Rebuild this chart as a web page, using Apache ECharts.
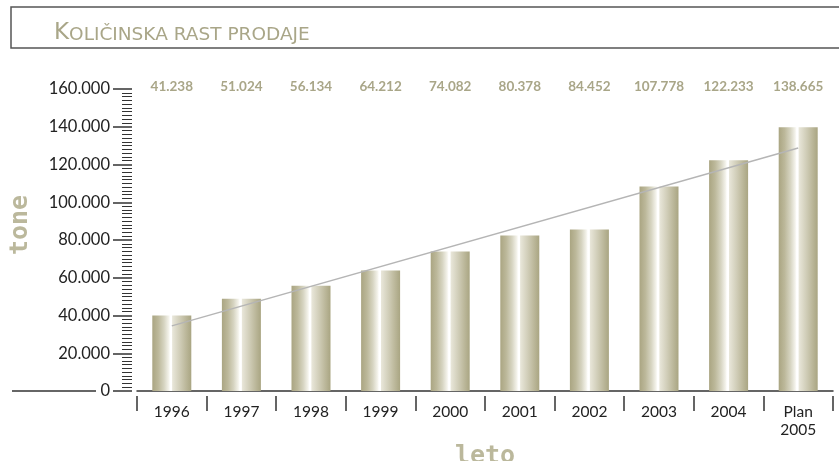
<!DOCTYPE html>
<html>
    <head>
        <meta charset="utf-8">
        <title>Količinska rast prodaje</title>
        <script src="https://cdn.jsdelivr.net/npm/echarts@6/dist/echarts.min.js"></script>
        <style>
            body { margin: 0; background: #fff; }
            #chart { width: 839px; height: 461px; }
        </style>
    </head>
    <body>
        <div id="chart"></div>
        <script>
            // podatki
            var years = ['1996', '1997', '1998', '1999', '2000', '2001', '2002', '2003', '2004', 'Plan\n2005'];
            var topLabels = ['41.238', '51.024', '56.134', '64.212', '74.082', '80.378', '84.452', '107.778', '122.233', '138.665'];
            var barValues = [40000, 48900, 55800, 63800, 73900, 82400, 85600, 108400, 122300, 139800];
            var trendValues = [34500, null, null, null, null, null, null, null, null, 128700];

            var khaki = '#a9a688';

            function fmt(v) {
                return String(v).replace(/\B(?=(\d{3})+(?!\d))/g, '.');
            }

            var barColor = new echarts.graphic.LinearGradient(0, 0, 1, 0, [
                { offset: 0, color: '#aaa582' },
                { offset: 0.15, color: '#bcb89a' },
                { offset: 0.3, color: '#d6d4c1' },
                { offset: 0.42, color: '#f3f2ea' },
                { offset: 0.46, color: '#ffffff' },
                { offset: 0.5, color: '#ffffff' },
                { offset: 0.52, color: '#e8e6d9' },
                { offset: 0.7, color: '#d1ceb9' },
                { offset: 0.86, color: '#bcb89b' },
                { offset: 1, color: '#a9a582' }
            ]);

            var chart = echarts.init(document.getElementById('chart'));
            chart.setOption({
                animation: false,
                grid: { left: 137, right: 6, top: 89, bottom: 70, outerBoundsMode: 'none', containLabel: false },
                xAxis: [
                    {
                        type: 'category',
                        data: years,
                        name: 'leto',
                        nameLocation: 'middle',
                        nameGap: 48,
                        nameTextStyle: { color: '#bbb89c', fontFamily: 'DejaVu Sans Mono', fontWeight: 'bold', fontSize: 25 },
                        axisLine: { lineStyle: { color: '#333', width: 1.5 } },
                        axisTick: { show: false },
                        axisLabel: { color: '#222', fontSize: 15.5, fontFamily: 'Lato', margin: 12, lineHeight: 18 }
                    },
                    {
                        type: 'category',
                        data: topLabels,
                        position: 'top',
                        axisLine: { show: false },
                        axisTick: { show: false },
                        axisLabel: { color: khaki, fontSize: 13.5, fontWeight: 'bold', fontFamily: 'Lato', margin: 2, verticalAlign: 'middle' }
                    },
                    {
                        type: 'category',
                        data: years,
                        position: 'bottom',
                        offset: 5,
                        axisLine: { show: false },
                        axisTick: { show: true, length: 15, lineStyle: { color: '#333', width: 1.5 } },
                        axisLabel: { show: false }
                    }
                ],
                yAxis: {
                    type: 'value',
                    min: 0,
                    max: 160000,
                    interval: 20000,
                    offset: 5,
                    name: 'tone',
                    nameLocation: 'middle',
                    nameRotate: 90,
                    nameGap: 99,
                    nameTextStyle: { color: '#bbb89c', fontFamily: 'DejaVu Sans Mono', fontWeight: 'bold', fontSize: 25, padding: [0, 0, 0, 30] },
                    axisLine: { show: false },
                    axisTick: { show: true, length: 19, lineStyle: { color: '#333', width: 1.5 } },
                    minorTick: { show: true, splitNumber: 10, length: 10, lineStyle: { color: '#333', width: 1 } },
                    splitLine: { show: false },
                    axisLabel: { color: '#222', fontSize: 16.5, fontFamily: 'Lato', margin: 22, formatter: fmt }
                },
                graphic: [
                    {
                        type: 'rect',
                        shape: { x: 11, y: 7, width: 840, height: 41 },
                        style: { fill: '#fff', stroke: '#555', lineWidth: 1.5 }
                    },
                    {
                        type: 'text',
                        left: 54,
                        top: 22,
                        style: {
                            text: '{a|K}{b|OLIČINSKA RAST PRODAJE}',
                            rich: {
                                a: { fontSize: 23, fontFamily: 'DejaVu Sans', fill: khaki },
                                b: { fontSize: 18.5, fontFamily: 'DejaVu Sans', fill: khaki, verticalAlign: 'bottom' }
                            }
                        }
                    },
                    {
                        type: 'line',
                        shape: { x1: 12, y1: 391, x2: 96, y2: 391 },
                        style: { stroke: '#333', lineWidth: 1.5 }
                    }
                ],
                series: [
                    {
                        type: 'bar',
                        data: barValues,
                        barWidth: 39,
                        itemStyle: { color: barColor }
                    },
                    {
                        type: 'line',
                        data: trendValues,
                        connectNulls: true,
                        symbol: 'none',
                        lineStyle: { color: '#b5b5b5', width: 1.5 }
                    }
                ]
            });
        </script>
    </body>
</html>
